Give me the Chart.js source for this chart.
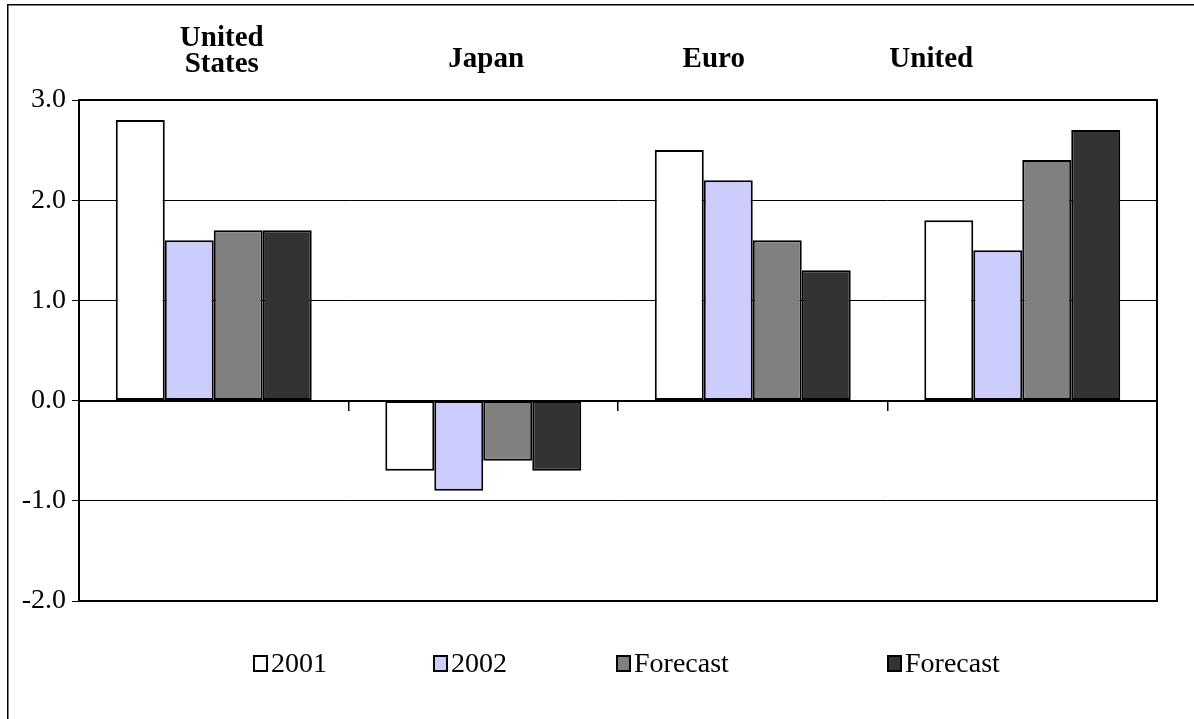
<!DOCTYPE html>
<html>
<head>
<meta charset="utf-8">
<title>Real GDP growth</title>
<script src="https://cdn.jsdelivr.net/npm/chart.js@4"></script>
<style>
  html, body { margin: 0; padding: 0; background: #fff; }
  #wrap { position: relative; width: 1194px; height: 719px; }
</style>
</head>
<body>
<div id="wrap"><canvas id="chart" width="1194" height="719"></canvas></div>
<script>
// Economies (header text, one entry per line)
const regions = [['United', 'States'], ['Japan'], ['Euro'], ['United']];
// Series labels
const seriesNames = ['2001', '2002', 'Forecast', 'Forecast'];
// Growth values per series, in region order
const values2001 = [2.8, -0.7, 2.5, 1.8];
const values2002 = [1.6, -0.9, 2.2, 1.5];
const valuesForecastA = [1.7, -0.6, 1.6, 2.4];
const valuesForecastB = [1.7, -0.7, 1.3, 2.7];
// Value axis ticks
const yTicks = [-2, -1, 0, 1, 2, 3];

const fills = ['#ffffff', '#ccccff', '#808080', '#333333'];
const serif = '"Liberation Serif", "Times New Roman", serif';

// horizontal nudges for the header text above each region
const headerShift = [8, 3, -39, -91];
// legend entry left edges
const legendX = [253, 433, 616, 887];

const frame = {
  id: 'frame',
  beforeDraw(chart) {
    const ctx = chart.ctx;
    ctx.save();
    ctx.fillStyle = '#fff';
    ctx.fillRect(0, 0, chart.width, chart.height);
    ctx.strokeStyle = '#000';
    ctx.lineWidth = 1.5;
    ctx.strokeRect(7.75, 4.75, chart.width + 20, chart.height + 20);
    ctx.restore();
  },
  afterDraw(chart) {
    const ctx = chart.ctx;
    const a = chart.chartArea;
    ctx.save();
    // plot box
    ctx.strokeStyle = '#000';
    ctx.lineWidth = 2;
    ctx.strokeRect(a.left, a.top, a.right - a.left, a.bottom - a.top);

    // region headers
    const x = chart.scales.x;
    ctx.fillStyle = '#000';
    ctx.font = 'bold 29px ' + serif;
    ctx.textAlign = 'center';
    ctx.textBaseline = 'alphabetic';
    regions.forEach((lines, i) => {
      const cx = x.getPixelForValue(i) + headerShift[i];
      if (lines.length === 1) {
        ctx.fillText(lines[0], cx, 67);
      } else {
        lines.forEach((t, j) => ctx.fillText(t, cx, 46 + j * 26));
      }
    });

    // legend
    ctx.font = '28px ' + serif;
    ctx.textAlign = 'left';
    ctx.textBaseline = 'middle';
    chart.data.datasets.forEach((ds, i) => {
      const lx = legendX[i];
      ctx.fillStyle = ds.backgroundColor;
      ctx.fillRect(lx + 1, 656, 13, 15);
      ctx.strokeStyle = '#000';
      ctx.lineWidth = 2;
      ctx.strokeRect(lx + 1, 656, 13, 15);
      ctx.fillStyle = '#000';
      ctx.fillText(ds.label, lx + 18, 665);
    });
    ctx.restore();
  }
};

const seriesValues = [values2001, values2002, valuesForecastA, valuesForecastB];

new Chart(document.getElementById('chart'), {
  type: 'bar',
  data: {
    labels: regions.map(r => r.join(' ')),
    datasets: seriesNames.map((name, i) => ({
      label: name,
      data: seriesValues[i],
      backgroundColor: fills[i],
      borderColor: '#000',
      borderWidth: 2,
      borderSkipped: false,
      barPercentage: 1.0,
      categoryPercentage: 0.727
    }))
  },
  options: {
    responsive: false,
    animation: false,
    events: [],
    layout: { padding: { left: 0, top: 100, right: 37, bottom: 118 } },
    plugins: {
      legend: { display: false },
      title: { display: false },
      tooltip: { enabled: false }
    },
    scales: {
      x: {
        position: { y: 0 },
        grid: {
          offset: true,
          drawOnChartArea: false,
          drawTicks: true,
          tickLength: 9,
          color: '#000',
          lineWidth: 1.5
        },
        border: { display: true, color: '#000', width: 2 },
        ticks: { display: false }
      },
      y: {
        min: -2,
        max: 3,
        afterBuildTicks(scale) {
          scale.ticks = yTicks.map(v => ({ value: v }));
        },
        afterFit(scale) { scale.width = 79; },
        grid: {
          color: '#000',
          lineWidth: 1,
          tickLength: 7,
          drawTicks: true
        },
        border: { display: true, color: '#000', width: 2 },
        ticks: {
          color: '#000',
          padding: 6,
          font: { family: serif, size: 28 },
          callback: v => Number(v).toFixed(1)
        }
      }
    }
  },
  plugins: [frame]
});
</script>
</body>
</html>
